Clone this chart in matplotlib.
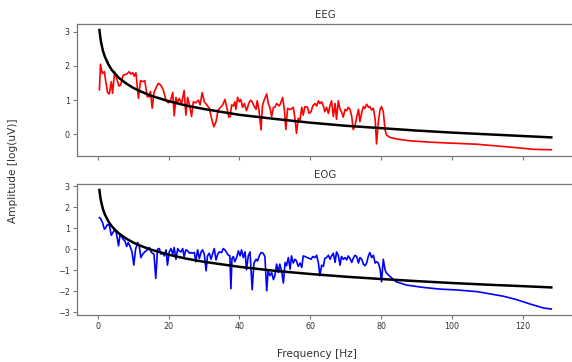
import matplotlib
matplotlib.use("Agg")
import matplotlib.pyplot as plt

# ---------------- data ----------------
eeg_freq = [0.5, 0.8, 1.3, 1.9, 2.3, 2.8, 3.3, 3.85, 4.2, 4.8, 5.35, 6.0, 6.5, 7.2, 8.2, 8.9, 9.4, 9.9,
            10.3, 10.8, 11.5, 12.1, 12.7, 13.3, 14.0, 14.6, 14.9, 15.4, 15.9, 16.4, 17.1, 17.8, 18.5,
            19.3, 19.9, 20.6, 21.2, 21.6, 22.1, 22.5, 23.0, 23.7, 24.4, 24.9, 25.4, 26.0, 26.5, 27.0,
            27.7, 28.4, 28.9, 29.5, 30.1, 30.8, 31.5, 32.2, 32.8, 33.4, 34.0, 34.7, 35.3, 35.9, 36.4,
            37.0, 37.4, 37.8, 38.3, 38.7, 39.0, 39.5, 40.0, 40.4, 40.9, 41.4, 42.0, 42.7, 43.2, 43.6,
            44.1, 44.7, 45.0, 45.5, 46.1, 46.5, 46.9, 47.7, 48.2, 48.6, 49.1, 49.6, 50.0, 50.5, 51.2,
            51.6, 52.2, 52.7, 53.1, 53.6, 54.1, 54.5, 55.2, 55.7, 56.1, 56.6, 57.1, 57.6, 58.0, 58.5,
            59.2, 59.7, 60.2, 60.7, 61.3, 61.8, 62.3, 62.7, 63.2, 63.7, 64.1, 64.6, 65.1, 65.6, 66.0,
            66.5, 67.0, 67.4, 67.9, 68.4, 68.8, 69.3, 69.8, 70.3, 70.7, 71.2, 71.7, 72.1, 72.6, 73.1,
            73.6, 74.0, 74.5, 75.0, 75.4, 75.9, 76.4, 76.8, 77.3, 77.8, 78.3, 78.7, 79.2, 79.7, 80.1,
            80.6, 81.1, 81.5, 82.5, 84.0, 86.0, 88.1, 93.8, 100.1, 107.0, 112.6, 118.2, 123.0, 128.0]
eeg_amp = [1.30, 2.05, 1.78, 1.83, 1.54, 1.22, 1.18, 1.54, 1.20, 1.83, 1.64, 1.41, 1.44, 1.73, 1.76, 1.83,
           1.76, 1.80, 1.70, 1.80, 1.05, 1.57, 1.54, 1.57, 1.10, 1.10, 1.25, 0.76, 1.22, 1.34, 1.49, 1.44,
           1.30, 1.00, 0.92, 1.00, 1.22, 0.54, 1.08, 0.92, 1.05, 0.90, 1.28, 0.56, 1.08, 0.81, 0.52, 0.95,
           0.92, 1.00, 0.86, 1.22, 0.95, 0.86, 0.76, 0.44, 0.22, 0.37, 0.71, 0.79, 0.86, 1.02, 0.81,
           0.50, 0.52, 0.86, 0.83, 0.95, 0.73, 1.08, 0.95, 1.02, 0.79, 0.90, 0.69, 0.92, 1.00, 0.95,
           0.83, 0.73, 0.98, 0.73, 0.13, 0.83, 0.98, 1.18, 0.88, 0.79, 0.52, 0.79, 0.79, 0.90, 0.83,
           0.90, 1.08, 0.71, 0.14, 0.76, 0.73, 0.73, 0.79, 0.44, 0.03, 0.47, 0.42, 0.79, 0.56, 0.81,
           0.79, 0.61, 0.66, 0.83, 0.90, 0.83, 0.98, 0.90, 0.95, 0.83, 0.66, 0.79, 0.61, 0.86, 0.98,
           0.52, 0.90, 0.44, 0.98, 0.73, 0.66, 0.50, 0.73, 0.69, 0.79, 0.73, 0.52, 0.14, 0.24, 0.50,
           0.73, 0.37, 0.63, 0.81, 0.76, 0.88, 0.79, 0.81, 0.71, 0.76, 0.44, -0.28, 0.37, 0.73, 0.81,
           0.66, 0.13, -0.02, -0.09, -0.13, -0.16, -0.19, -0.23, -0.26, -0.29, -0.34, -0.39, -0.44, -0.45]

eog_freq = [0.5, 0.8, 1.4, 1.9, 2.3, 2.8, 3.3, 3.85, 4.4, 4.9, 5.35, 5.9, 6.3, 6.8, 7.2, 7.7, 8.2, 8.6,
            9.1, 9.7, 10.2, 10.7, 11.3, 11.75, 12.2, 12.7, 13.3, 14.0, 14.6, 15.2, 15.9, 16.4, 16.9,
            17.4, 17.9, 18.3, 18.8, 19.3, 19.7, 20.2, 20.7, 21.2, 21.6, 22.1, 22.6, 23.0, 23.5, 24.0,
            24.4, 24.9, 25.4, 25.9, 26.3, 26.8, 27.3, 27.7, 28.2, 28.7, 29.2, 29.6, 30.1, 30.6, 31.0,
            31.5, 32.0, 32.4, 32.9, 33.4, 33.9, 34.3, 35.0, 35.4, 35.9, 36.4, 36.9, 37.3, 37.6, 37.9,
            38.3, 38.7, 39.2, 39.7, 40.2, 40.6, 41.1, 41.6, 42.0, 42.5, 43.0, 43.6, 44.1, 44.7, 45.1,
            45.6, 46.1, 46.7, 47.2, 47.7, 48.1, 48.6, 49.1, 49.6, 50.0, 50.5, 51.0, 51.4, 51.9, 52.4,
            52.9, 53.3, 53.8, 54.3, 54.7, 55.2, 55.7, 56.1, 56.6, 57.1, 57.6, 58.0, 58.5, 59.2, 59.7,
            60.2, 60.7, 61.3, 61.8, 62.3, 62.7, 63.2, 63.7, 64.1, 64.6, 65.1, 65.6, 66.0, 66.5, 67.0,
            67.4, 67.9, 68.4, 68.8, 69.3, 69.8, 70.3, 70.7, 71.2, 71.7, 72.1, 72.6, 73.1, 73.6, 74.0,
            74.5, 75.0, 75.4, 75.9, 76.4, 76.8, 77.3, 77.8, 78.3, 78.7, 79.2, 79.7, 80.1, 80.6, 81.1,
            81.5, 82.5, 84.2, 87.2, 91.9, 96.6, 101.3, 107.0, 110.7, 114.5, 118.2, 122.0, 125.8, 128.0]
eog_amp = [1.50, 1.47, 1.26, 0.95, 1.03, 1.18, 1.14, 0.66, 0.82, 0.95, 0.71, 0.16, 0.66, 0.60, 0.47, 0.39,
           0.13, 0.32, 0.16, -0.13, -0.76, 0.00, 0.32, 0.13, -0.40, -0.24, -0.13, -0.03, 0.08, -0.16,
           -0.24, -1.39, 0.00, 0.03, -0.24, -0.16, -0.32, -0.03, -0.76, -0.13, 0.03, -0.24, 0.08, -0.48,
           0.03, -0.08, -0.13, 0.03, -0.35, -0.03, -0.08, -0.19, -0.16, -0.19, -0.16, -0.60, -0.03,
           -0.44, -0.13, -0.03, -0.24, -1.03, -0.32, -0.19, -0.48, -0.24, 0.03, -0.51, -0.24, -0.13,
           -0.16, 0.03, -0.03, -0.16, -0.29, -0.32, -1.88, -0.44, -0.35, -0.60, -0.40, -0.08, -0.32,
           -0.03, -0.40, -0.13, -0.98, -0.32, -0.13, -1.93, -0.66, -0.48, -0.56, -0.32, -0.16, -0.19,
           -0.35, -1.98, -1.03, -1.26, -1.11, -1.45, -1.26, -0.71, -1.11, -0.71, -1.03, -1.61, -0.63,
           -0.79, -0.40, -0.95, -0.32, -0.66, -0.48, -0.56, -0.82, -0.66, -0.87, -0.32, -0.35, -0.40,
           -0.44, -0.48, -0.35, -0.40, -0.29, -0.66, -1.26, -0.76, -0.82, -0.44, -0.40, -0.29, -0.48,
           -0.32, -0.19, -0.63, -0.13, -0.29, -0.76, -0.35, -0.48, -0.40, -0.51, -0.32, -0.44, -0.63,
           -0.44, -0.29, -0.35, -0.66, -0.40, -0.48, -0.71, -0.79, -0.66, -0.32, -0.16, -0.40, -0.29,
           -0.66, -0.60, -0.66, -0.95, -1.55, -0.48, -0.98, -1.14, -1.30, -1.55, -1.71, -1.82, -1.90,
           -1.94, -2.02, -2.13, -2.24, -2.40, -2.61, -2.80, -2.85]

fit_freq = [0.5, 0.75, 1, 1.5, 2, 3, 4, 5, 6, 8, 10, 12, 15, 20, 25, 30, 40, 50, 60, 70, 80, 90,
            100, 110, 120, 128]
eeg_fit = [3.05, 2.84, 2.67, 2.44, 2.28, 2.05, 1.88, 1.76, 1.65, 1.49, 1.36, 1.26, 1.13, 0.97, 0.84,
           0.74, 0.57, 0.45, 0.34, 0.25, 0.18, 0.11, 0.05, 0.00, -0.05, -0.09]
eog_fit = [2.82, 2.48, 2.25, 1.91, 1.67, 1.33, 1.09, 0.91, 0.75, 0.51, 0.32, 0.17, -0.02, -0.26,
           -0.45, -0.60, -0.84, -1.03, -1.18, -1.31, -1.42, -1.52, -1.61, -1.69, -1.76, -1.82]

titles = ["EEG", "EOG"]
x_label = "Frequency [Hz]"
y_label = "Amplitude [log(uV)]"

# ---------------- figure ----------------
plt.rcParams['font.family'] = ['DejaVu Sans']
text_col = '#333333'
spine_col = '#777777'

fig = plt.figure(figsize=(5.72, 3.62), dpi=100)
ax1 = fig.add_axes([0.1343, 0.5699, 0.869, 0.3638])
ax2 = fig.add_axes([0.1343, 0.1298, 0.869, 0.3619], sharex=ax1)

series = [(ax1, eeg_freq, eeg_amp, eeg_fit, 'red'), (ax2, eog_freq, eog_amp, eog_fit, 'blue')]
for (ax, fr, amp, fit, col), title in zip(series, titles):
    ax.plot(fr, amp, color=col, lw=1.2)
    ax.plot(fit_freq, fit, color='black', lw=1.8)
    ax.set_title(title, fontsize=7.3, color=text_col, pad=4.2)
    for s in ax.spines.values():
        s.set_color(spine_col)
        s.set_linewidth(0.9)
    ax.tick_params(axis='both', labelsize=5.8, colors=spine_col, labelcolor=text_col,
                   length=2.6, width=0.8, pad=2.5)

ax1.tick_params(axis='x', labelbottom=False)
ax2.set_xticks([0, 20, 40, 60, 80, 100, 120])
ax1.set_yticks([0, 1, 2, 3])
ax2.set_yticks([-3, -2, -1, 0, 1, 2, 3])

fig.text(317 / 572, 1 - 354 / 362, x_label, ha='center', va='center', fontsize=7.6, color=text_col)
fig.text(13 / 572, 1 - 170.5 / 362, y_label, ha='center', va='center', rotation=90,
         fontsize=7.6, color=text_col)

fig.savefig("out.png", dpi=100)
